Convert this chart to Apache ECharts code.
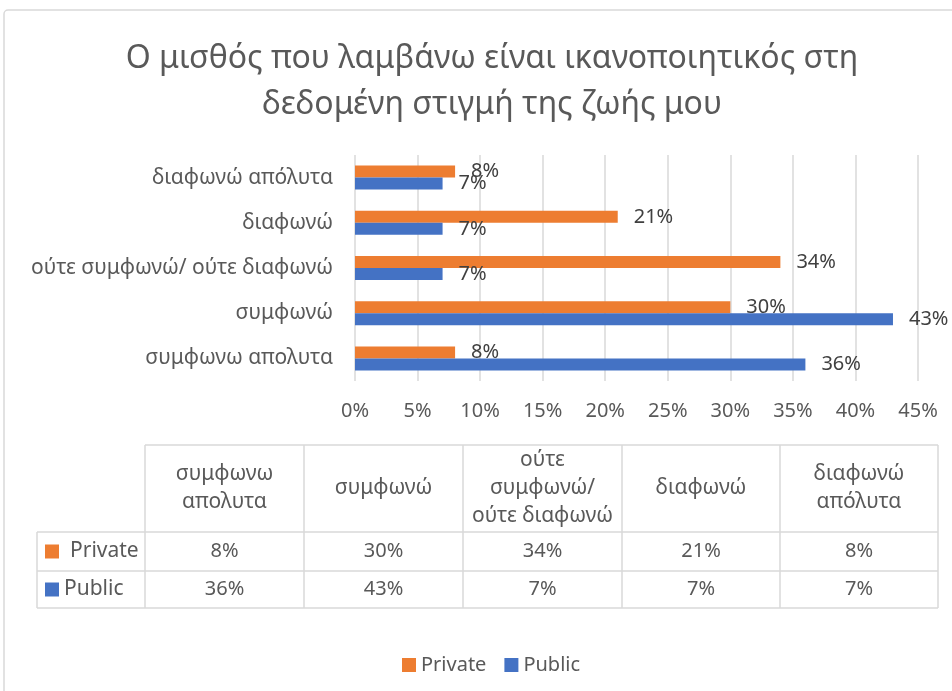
<!DOCTYPE html>
<html>
<head>
<meta charset="utf-8">
<script src="https://cdn.jsdelivr.net/npm/echarts@6/dist/echarts.min.js"></script>
<style>
  html, body { margin: 0; padding: 0; background: #ffffff; }
  #chart { width: 952px; height: 691px; }
</style>
</head>
<body>
<div id="chart"></div>
<script>
// Response categories (bottom to top on the bar chart, left to right in the table)
const categories = ['συμφωνω απολυτα', 'συμφωνώ', 'ούτε συμφωνώ/ ούτε διαφωνώ', 'διαφωνώ', 'διαφωνώ απόλυτα'];
// Header cells of the data table, wrapped as shown
const tableHeaders = ['συμφωνω\nαπολυτα', 'συμφωνώ', 'ούτε\nσυμφωνώ/\nούτε διαφωνώ', 'διαφωνώ', 'διαφωνώ\nαπόλυτα'];
// Share of respondents (%)
const privateValues = [8, 30, 34, 21, 8];
const publicValues = [36, 43, 7, 7, 7];
const seriesNames = ['Private', 'Public'];
const axisMax = 45;
const axisStep = 5;

const FONT = '"Noto Sans", "DejaVu Sans", sans-serif';
const TEXT = '#595959';
const LINE = '#d9d9d9';
const ORANGE = '#ED7D31';
const BLUE = '#4472C4';
const FS = 20;
const FS_CAT = 21;

// Data table geometry
const colX = [37, 145, 304, 463, 622, 780, 938];
const rowY = [445, 532, 571, 608];

function buildTable() {
  const els = [];
  const ls = { stroke: LINE, lineWidth: 1.5 };
  // horizontal rules
  els.push({ type: 'line', shape: { x1: colX[1], y1: rowY[0], x2: colX[6], y2: rowY[0] }, style: ls });
  for (let r = 1; r < rowY.length; r++) {
    els.push({ type: 'line', shape: { x1: colX[0], y1: rowY[r], x2: colX[6], y2: rowY[r] }, style: ls });
  }
  // vertical rules
  els.push({ type: 'line', shape: { x1: colX[0], y1: rowY[1], x2: colX[0], y2: rowY[3] }, style: ls });
  for (let c = 1; c < colX.length; c++) {
    els.push({ type: 'line', shape: { x1: colX[c], y1: rowY[0], x2: colX[c], y2: rowY[3] }, style: ls });
  }
  // header cells
  tableHeaders.forEach((h, i) => {
    els.push({
      type: 'text',
      style: {
        x: (colX[i + 1] + colX[i + 2]) / 2, y: (rowY[0] + rowY[1]) / 2,
        text: h, align: 'center', verticalAlign: 'middle',
        font: FS_CAT + 'px ' + FONT, fill: TEXT, lineHeight: 28
      }
    });
  });
  // series rows
  const rows = [
    { name: seriesNames[0], color: ORANGE, values: privateValues, textX: 70 },
    { name: seriesNames[1], color: BLUE, values: publicValues, textX: 64 }
  ];
  rows.forEach((row, r) => {
    const cy = (rowY[r + 1] + rowY[r + 2]) / 2;
    els.push({ type: 'rect', shape: { x: 45, y: cy - 7, width: 14, height: 14 }, style: { fill: row.color } });
    els.push({
      type: 'text',
      style: { x: row.textX, y: cy, text: row.name, align: 'left', verticalAlign: 'middle', font: FS_CAT + 'px ' + FONT, fill: TEXT }
    });
    row.values.forEach((v, i) => {
      els.push({
        type: 'text',
        style: {
          x: (colX[i + 1] + colX[i + 2]) / 2, y: cy,
          text: v + '%', align: 'center', verticalAlign: 'middle',
          font: FS + 'px ' + FONT, fill: TEXT
        }
      });
    });
  });
  return els;
}

const chart = echarts.init(document.getElementById('chart'), null, { renderer: 'canvas' });

const labelStyle = {
  show: true, position: 'right', distance: 16,
  formatter: '{c}%', fontSize: FS, color: '#404040', fontFamily: FONT
};

chart.setOption({
  backgroundColor: '#ffffff',
  animation: false,
  title: {
    text: 'Ο μισθός που λαμβάνω είναι ικανοποιητικός στη\nδεδομένη στιγμή της ζωής μου',
    left: 487, textAlign: 'center', top: 31,
    textStyle: { fontFamily: FONT, fontSize: 32, fontWeight: 'normal', color: TEXT, lineHeight: 46 }
  },
  legend: {
    data: seriesNames,
    left: 397, top: 650,
    icon: 'rect', itemWidth: 14, itemHeight: 14, itemGap: 18,
    textStyle: { fontFamily: FONT, fontSize: FS, color: TEXT }
  },
  grid: { left: 355, right: 34, top: 155, bottom: 310, containLabel: false },
  xAxis: {
    type: 'value', min: 0, max: axisMax, interval: axisStep,
    axisLine: { show: false }, axisTick: { show: false },
    splitLine: { lineStyle: { color: LINE, width: 1.5 } },
    axisLabel: { formatter: '{value}%', margin: 20, fontSize: FS, color: TEXT, fontFamily: FONT }
  },
  yAxis: {
    type: 'category', data: categories,
    axisLine: { show: false }, axisTick: { show: false },
    axisLabel: { margin: 22, fontSize: FS_CAT, color: TEXT, fontFamily: FONT }
  },
  series: [
    { name: seriesNames[0], type: 'bar', data: privateValues, barWidth: 12, barGap: '0%',
      itemStyle: { color: ORANGE }, label: labelStyle },
    { name: seriesNames[1], type: 'bar', data: publicValues, barWidth: 12, barGap: '0%',
      itemStyle: { color: BLUE }, label: labelStyle }
  ],
  graphic: [
    { type: 'rect', shape: { x: 4, y: 10, width: 960, height: 700, r: 4 },
      style: { fill: 'none', stroke: LINE, lineWidth: 1.5 }, silent: true, z: -10 },
    { type: 'group', children: buildTable() }
  ]
});
</script>
</body>
</html>
